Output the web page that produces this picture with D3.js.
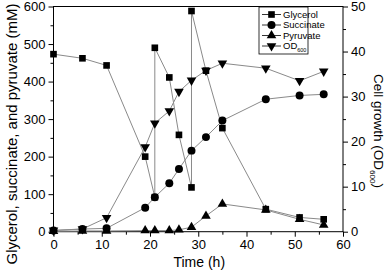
<!DOCTYPE html>
<html lang="en">
  <head>
    <meta charset="utf-8">
    <style>
      body { margin: 0; background: #fff; }
      svg { display: block; font-family: "Liberation Sans", Arial, sans-serif; }
    </style>
    <script src="https://d3js.org/d3.v7.min.js"></script>
  </head>
  <body>
    <div class="chart"></div>
    <script>
    // time points (h); repeated points are glycerol feeds
    const glyTime = [0, 6, 11, 19, 21, 21, 24, 26, 28.6, 28.6, 31.6, 35, 44, 51, 56]
    const glycerol = [473, 462, 443, 200, 92, 490, 411, 258, 118, 588, 429, 276, 60, 38, 33]

    const time = [0, 6, 11, 19, 21, 24, 26, 28.6, 31.6, 35, 44, 51, 56]
    const succinate = [3, 7, 9, 64, 92, 129, 167, 216, 252, 296, 353, 363, 366]
    const pyruvate = [1, 2, 2, 3, 3, 3, 5, 12, 42, 74, 58, 33, 18]
    const od600 = [0.3, 0.6, 3.1, 18.8, 24.1, 26.8, 31.1, 33.6, 35.8, 37.4, 36.3, 33.5, 35.6]

    const xTicks = [0, 10, 20, 30, 40, 50, 60]
    const yTicks = [0, 100, 200, 300, 400, 500, 600]
    const y2Ticks = [0, 10, 20, 30, 40, 50]

    const W = 387, H = 275
    const margin = { top: 6.5, left: 53.5, bottom: 43.3, right: 44 }
    const width = W - margin.left - margin.right,
      height = H - margin.top - margin.bottom

    const svg = d3.select(".chart").append("svg")
      .attr("width", W).attr("height", H)
    const g = svg.append("g").attr("transform", `translate(${margin.left},${margin.top})`)

    const x = d3.scaleLinear().domain([0, 60]).range([0, width])
    const y = d3.scaleLinear().domain([0, 600]).range([height, 0])
    const y2 = d3.scaleLinear().domain([0, 50]).range([height, 0])

    const fs = "13px"
    // minor ticks
    g.append("g").attr("transform", `translate(0,${height})`)
      .call(d3.axisBottom(x).tickValues(d3.range(5, 60, 10)).tickSize(3).tickFormat(""))
    g.append("g").call(d3.axisLeft(y).tickValues(d3.range(50, 600, 100)).tickSize(3).tickFormat(""))
    g.append("g").attr("transform", `translate(${width},0)`)
      .call(d3.axisRight(y2).tickValues(d3.range(5, 50, 10)).tickSize(3).tickFormat(""))
    // major ticks
    g.append("g").attr("transform", `translate(0,${height})`)
      .call(d3.axisBottom(x).tickValues(xTicks).tickSize(5).tickPadding(3))
      .style("font-size", fs)
    g.append("g").call(d3.axisLeft(y).tickValues(yTicks).tickSize(5).tickPadding(3))
      .style("font-size", fs)
    g.append("g").attr("transform", `translate(${width},0)`)
      .call(d3.axisRight(y2).tickValues(y2Ticks).tickSize(5).tickPadding(3))
      .style("font-size", fs)
    g.selectAll(".domain").remove()
    g.selectAll(".tick line").attr("stroke", "#000")
    g.selectAll(".tick text").attr("fill", "#000")
    g.append("rect").attr("width", width).attr("height", height)
      .attr("fill", "none").attr("stroke", "#000").attr("stroke-width", 1)

    const sym = {
      sq: d3.symbol().type(d3.symbolSquare).size(44),
      ci: d3.symbol().type(d3.symbolCircle).size(50),
      tri: d3.symbol().type(d3.symbolTriangle).size(40)
    }

    const series = [
      { xs: glyTime, ys: glycerol, sc: y, s: sym.sq, rot: 0 },
      { xs: time, ys: succinate, sc: y, s: sym.ci, rot: 0 },
      { xs: time, ys: pyruvate, sc: y, s: sym.tri, rot: 0 },
      { xs: time, ys: od600, sc: y2, s: sym.tri, rot: 180 }
    ]

    const line = d3.line()
    series.forEach(se => {
      const pts = se.xs.map((t, i) => [x(t), se.sc(se.ys[i])])
      g.append("path").attr("d", line(pts))
        .attr("fill", "none").attr("stroke", "#8a8a8a").attr("stroke-width", 1)
    })
    series.forEach(se => {
      const pts = se.xs.map((t, i) => [x(t), se.sc(se.ys[i])])
      g.append("g").selectAll("path").data(pts).join("path")
        .attr("d", se.s)
        .attr("transform", d => `translate(${d[0]},${d[1]}) rotate(${se.rot})`)
        .attr("fill", "#000")
    })

    // legend
    const legNames = ["Glycerol", "Succinate", "Pyruvate", "OD"]
    const lg = svg.append("g").attr("transform", "translate(259,7)")
    lg.append("rect").attr("width", 49).attr("height", 47)
      .attr("fill", "#fff").attr("stroke", "#000").attr("stroke-width", 0.8)
    legNames.forEach((n, i) => {
      const yy = 7.5 + i * 10.5
      const se = series[i]
      lg.append("line").attr("x1", 3).attr("x2", 22).attr("y1", yy).attr("y2", yy)
        .attr("stroke", "#000").attr("stroke-width", 0.8)
      lg.append("path").attr("d", se.s)
        .attr("transform", `translate(12.5,${yy}) rotate(${se.rot})`).attr("fill", "#000")
      const t = lg.append("text").attr("x", 24).attr("y", yy + 3.3)
        .style("font-size", "9.5px").text(n)
      if (i === 3) t.append("tspan").attr("dy", 3).style("font-size", "5.5px").text("600")
    })

    // axis titles
    svg.append("text")
      .attr("x", margin.left + width / 2 + 1).attr("y", 267)
      .attr("text-anchor", "middle").style("font-size", "14px")
      .text("Time (h)")
    svg.append("text")
      .attr("transform", `translate(17,134) rotate(-90)`)
      .attr("text-anchor", "middle").style("font-size", "15px")
      .text("Glycerol, succinate, and pyruvate (mM)")
    const rt = svg.append("text")
      .attr("transform", `translate(374,131) rotate(90)`)
      .attr("text-anchor", "middle").style("font-size", "13.5px")
      .text("Cell growth (OD")
    rt.append("tspan").attr("dy", 4).style("font-size", "8px").text("600")
    rt.append("tspan").attr("dy", -4).text(")")
    </script>
  </body>
</html>
